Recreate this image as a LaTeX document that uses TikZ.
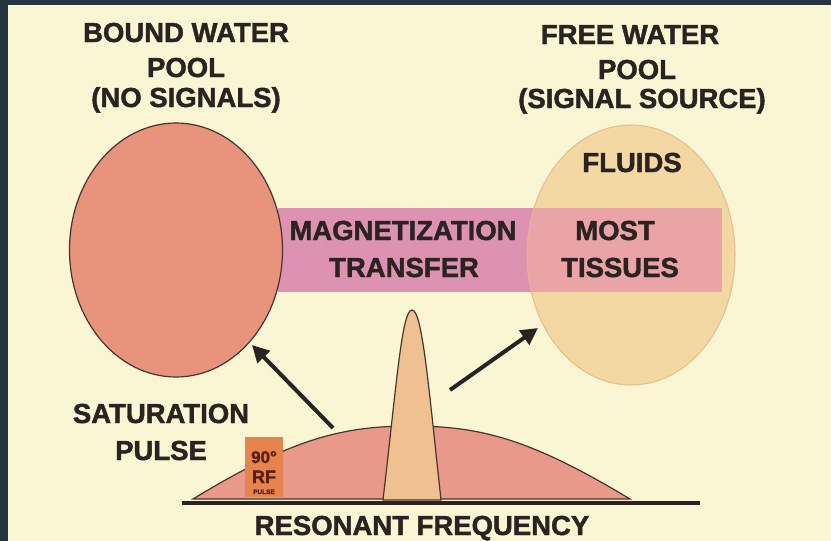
\documentclass[tikz,border=0pt]{standalone}
\usepackage{fontspec}
\setmainfont[BoldFeatures={FakeBold=1.6}]{Liberation Sans}
\usetikzlibrary{arrows.meta}
\definecolor{frame}{HTML}{243441}
\definecolor{cream}{HTML}{FAF6D3}
\definecolor{ink}{HTML}{2B2322}
\definecolor{salmon}{HTML}{E8937C}
\definecolor{tan}{HTML}{F3D8A3}
\definecolor{tanline}{HTML}{E6C68E}
\definecolor{magenta}{HTML}{DC92B0}
\definecolor{lightpink}{HTML}{EBA4A6}
\definecolor{hump}{HTML}{E9998A}
\definecolor{peak}{HTML}{EFC190}
\definecolor{rfbox}{HTML}{E6844F}
\definecolor{rfink}{HTML}{5C2012}
\tikzset{
  lbl/.style={anchor=base, text=ink, font=\fontsize{27.5}{30}\selectfont\bfseries, inner sep=0pt},
  arr/.style={draw=ink, line width=4pt, -{Triangle[length=17pt,width=17pt]}},
  outl/.style={draw=ink!85!salmon, line width=1.2pt}
}
\begin{document}
\begin{tikzpicture}[x=1pt,y=-1pt]
\useasboundingbox (0,0) rectangle (831,541);
\fill[frame] (0,0) rectangle (831,541);
\fill[cream] (8,5) rectangle (831,541);

% right ellipse (free water)
\path[fill=tan, draw=tanline, line width=1pt] (631,255) ellipse [x radius=104, y radius=130];
% band
\fill[magenta] (278,208) rectangle (722,292);
\begin{scope}
  \clip (631,255) ellipse [x radius=104, y radius=130];
  \fill[lightpink] (278,208) rectangle (722,292);
\end{scope}
\draw[tanline!80!lightpink, line width=0.6pt] (631,255) ellipse [x radius=104, y radius=130];
% left ellipse (bound water)
\path[fill=salmon, outl] (176,250) ellipse [x radius=106.5, y radius=127];

% titles
\node[lbl] (bw1) at (186,42) {BOUND WATER};
\node[lbl] (bw2) at (186,77) {POOL};
\node[lbl] (bw3) at (186,107) {(NO SIGNALS)};
\node[lbl] (fw1) at (630,44) {FREE WATER};
\node[lbl] (fw2) at (637,79) {POOL};
\node[lbl] (fw3) at (642,108) {(SIGNAL SOURCE)};
\node[lbl] (fluids) at (632,172) {FLUIDS};
\node[lbl] (mt1) at (403,240) {MAGNETIZATION};
\node[lbl] (mt2) at (404,277) {TRANSFER};
\node[lbl] (ms1) at (615,240) {MOST};
\node[lbl] (ms2) at (620,277) {TISSUES};
\node[lbl] (sat1) at (161,423) {SATURATION};
\node[lbl] (sat2) at (161,460) {PULSE};
\node[lbl] (res) at (422,535) {RESONANT FREQUENCY};

% arrows
\coordinate (la0) at (333,428);
\coordinate (la1) at (252,345);
\coordinate (ra0) at (450,390);
\coordinate (ra1) at (538,328);
\draw[arr] (la0) -- (la1);
\draw[arr] (ra0) -- (ra1);

% broad hump
\path[fill=hump, outl] (193,499) .. controls (290,440) and (340,426) .. (411,426)
   .. controls (482,426) and (532,440) .. (630,499) -- cycle;
% RF pulse box
\fill[rfbox] (245,437) rectangle (283,497);
\node[anchor=base, text=rfink, font=\fontsize{17}{17}\selectfont\bfseries, inner sep=0pt] (rf1) at (264,463) {90°};
\node[anchor=base, text=rfink, font=\fontsize{18}{18}\selectfont\bfseries, inner sep=0pt] (rf2) at (264,483) {RF};
\node[anchor=base, text=rfink, font=\fontsize{6.5}{6.5}\selectfont\bfseries, inner sep=0pt] (rf3) at (264,494) {PULSE};
% narrow peak
\path[fill=peak, outl] (383,500) .. controls (397,380) and (402,310) .. (412,310)
   .. controls (422,310) and (428,380) .. (441,500) -- cycle;
% baseline
\draw[ink, line width=4pt] (182,503) -- (700,503);
\end{tikzpicture}
\end{document}
